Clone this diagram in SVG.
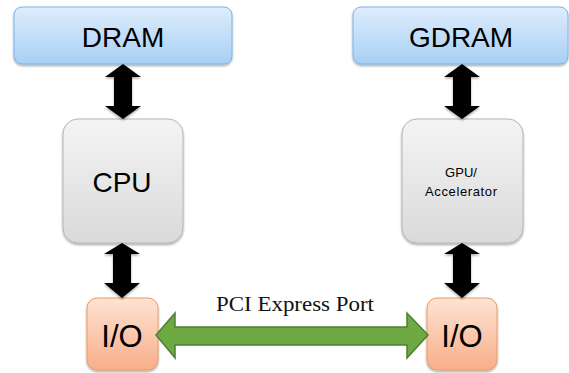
<svg xmlns="http://www.w3.org/2000/svg" width="569" height="373" viewBox="0 0 569 373">
<defs>
<linearGradient id="gb" x1="0" y1="0" x2="0" y2="1"><stop offset="0" stop-color="#deedfc"/><stop offset="1" stop-color="#a8cff5"/></linearGradient>
<linearGradient id="gg" x1="0" y1="0" x2="0" y2="1"><stop offset="0" stop-color="#f4f4f4"/><stop offset="1" stop-color="#dadada"/></linearGradient>
<linearGradient id="go" x1="0" y1="0" x2="0" y2="1"><stop offset="0" stop-color="#fde3d4"/><stop offset="1" stop-color="#f9ae88"/></linearGradient>
<filter id="sh" x="-10%" y="-10%" width="130%" height="130%"><feDropShadow dx="0" dy="1.5" stdDeviation="1.2" flood-color="#000" flood-opacity="0.35"/></filter>
</defs>
<style>
.blue{fill:url(#gb);stroke:#7db5e6;stroke-width:1;filter:url(#sh)}
.gray{fill:url(#gg);stroke:#b5b5b5;stroke-width:1;filter:url(#sh)}
.orange{fill:url(#go);stroke:#ee9a66;stroke-width:1;filter:url(#sh)}
.lbl{font-family:"Liberation Sans",Arial,sans-serif;fill:#000;text-anchor:middle}
.blk{fill:#000;filter:url(#sh)}
.grn{fill:#6eaa44;stroke:#4f7d32;stroke-width:1.5}
</style>
<g id="dram"><rect class="blue" x="14" y="7" width="218" height="57" rx="8"/><text class="lbl" x="123" y="47" font-size="28">DRAM</text></g>
<g id="gdram"><rect class="blue" x="353" y="7" width="215" height="57" rx="8"/><text class="lbl" x="461" y="47" font-size="28">GDRAM</text></g>
<g id="cpu"><rect class="gray" x="63" y="119" width="120" height="124" rx="15"/><text class="lbl" x="122" y="192" font-size="28">CPU</text></g>
<g id="gpu"><rect class="gray" x="402" y="119" width="121" height="124" rx="15"/><text class="lbl" x="461" y="177" font-size="13">GPU/</text><text class="lbl" x="461" y="196" font-size="13" textLength="72" lengthAdjust="spacing">Accelerator</text></g>
<g id="io-left"><rect class="orange" x="87" y="298" width="71" height="72" rx="10"/><text class="lbl" x="122" y="347" font-size="31">I/O</text></g>
<g id="io-right"><rect class="orange" x="427" y="298" width="70" height="72" rx="10"/><text class="lbl" x="462" y="347" font-size="31">I/O</text></g>
<g id="connectors">
<path class="blk" d="M123,64 L141,77 L132,77 L132,106 L141,106 L123,119 L105,106 L114,106 L114,77 L105,77 Z"/>
<path class="blk" d="M462,64 L480,77 L471,77 L471,106 L480,106 L462,119 L444,106 L453,106 L453,77 L444,77 Z"/>
<path class="blk" d="M122,243 L140,254 L131,254 L131,283 L140,283 L122,298 L104,283 L113,283 L113,254 L104,254 Z"/>
<path class="blk" d="M462,243 L480,254 L471,254 L471,283 L480,283 L462,298 L444,283 L453,283 L453,254 L444,254 Z"/>
<path class="grn" d="M156,335 L175,313 L175,327 L407,327 L407,313 L428,335 L407,358 L407,345 L175,345 L175,358 Z"/>
<text x="295" y="311" font-family="'Liberation Serif','Times New Roman',serif" font-size="20" text-anchor="middle" fill="#111" textLength="158" lengthAdjust="spacingAndGlyphs">PCI Express Port</text>
</g>
</svg>
